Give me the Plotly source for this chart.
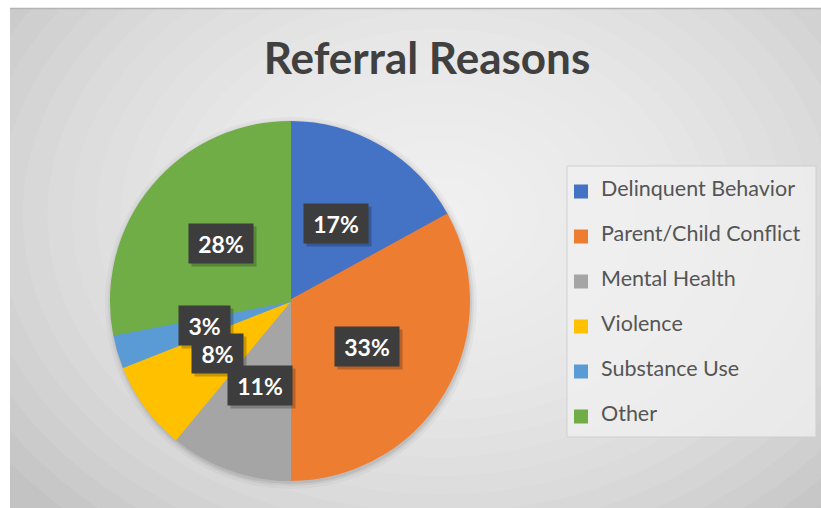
import math
import plotly.graph_objects as go

# ---------------- data ----------------
categories = ["Delinquent Behavior", "Parent/Child Conflict", "Mental Health",
              "Violence", "Substance Use", "Other"]
values = [17, 33, 11, 8, 3, 28]
colors = ["#4472C4", "#ED7D31", "#A5A5A5", "#FFC000", "#5B9BD5", "#70AD47"]
title_text = "Referral Reasons"

# ---------------- layout geometry ----------------
W, H = 821, 508
cx, cy, R = 290, 301, 179          # pie centre / radius in pixels
label_r = 0.5                      # data labels at half radius

def px(x):
    return x / W

def py(y):
    return 1 - y / H

dom_x = [px(cx - R), px(cx + R)]
dom_y = [py(cy + R), py(cy - R)]

# legend labels: 3 lines so that each entry is ~45px tall, label in middle
leg_font = 10.77
legend_labels = [f'&nbsp;<br><span style="font-size:21.5px">{c}</span><br>&nbsp;'
                 for c in categories]

fig = go.Figure()
fig.add_trace(go.Pie(
    labels=legend_labels,
    values=values,
    customdata=categories,
    sort=False,
    direction="clockwise",
    rotation=0,
    marker=dict(colors=colors, line=dict(color=colors, width=2)),
    textinfo="none",
    hovertemplate="%{customdata}: %{percent}<extra></extra>",
    domain=dict(x=dom_x, y=dom_y),
    showlegend=True,
))

# ---------------- background (radial-ish gradient) ----------------
shapes = []
shapes.append(dict(type="rect", xref="paper", yref="paper",
                   x0=px(10), x1=px(W), y0=py(H), y1=py(8),
                   fillcolor="#c3c3c3", line=dict(width=0), layer="below"))
gx, gy = 440, 215
N = 22
for i in range(N):
    f = 1 - i / N
    rx = 540 * f
    ry = 410 * f
    shapes.append(dict(type="circle", xref="paper", yref="paper",
                       x0=px(gx - rx), x1=px(gx + rx),
                       y0=py(gy + ry), y1=py(gy - ry),
                       fillcolor="white", opacity=0.08,
                       line=dict(width=0), layer="below"))
# clip the gradient to the chart area: white strips on the outside
shapes.append(dict(type="rect", xref="paper", yref="paper",
                   x0=0, x1=px(10), y0=0, y1=1,
                   fillcolor="white", line=dict(width=0), layer="below"))
shapes.append(dict(type="rect", xref="paper", yref="paper",
                   x0=0, x1=1, y0=py(8), y1=1,
                   fillcolor="white", line=dict(width=0), layer="below"))
shapes.append(dict(type="line", xref="paper", yref="paper",
                   x0=px(10), x1=1, y0=py(8.5), y1=py(8.5),
                   line=dict(color="#b4b4b4", width=1.5), layer="below"))
# soft pie shadow
for dr, op in [(7, 0.03), (4, 0.05), (2, 0.07)]:
    shapes.append(dict(type="circle", xref="paper", yref="paper",
                       x0=px(cx - R - dr + 1), x1=px(cx + R + dr + 1),
                       y0=py(cy + R + dr + 2), y1=py(cy - R - dr + 2),
                       fillcolor="black", opacity=op,
                       line=dict(width=0), layer="below"))
# legend box
shapes.append(dict(type="rect", xref="paper", yref="paper",
                   x0=px(567), x1=px(816), y0=py(437), y1=py(166),
                   fillcolor="rgba(240,240,240,0.75)",
                   line=dict(color="rgba(205,205,205,0.9)", width=1),
                   layer="below"))

# ---------------- data labels ----------------
total = sum(values)
annotations = []
cum = 0
label_specs = []
for v in values:
    mid = cum + v / 2
    cum += v
    th = 2 * math.pi * mid / total
    lx = cx + label_r * R * math.sin(th)
    ly = cy - label_r * R * math.cos(th)
    label_specs.append((lx, ly, f"{v / total * 100:.0f}%"))

def box_w(t):
    return 13 * (len(t) - 1) + 22

for lx, ly, t in label_specs:
    annotations.append(dict(x=px(lx), y=py(ly), xref="paper", yref="paper",
                            xanchor="center", yanchor="middle",
                            text="&nbsp;", showarrow=False,
                            xshift=3, yshift=-3, width=box_w(t), height=23,
                            font=dict(family="Lato", size=23, color="rgba(0,0,0,0)"),
                            bgcolor="rgba(0,0,0,0.22)", borderpad=8))
for lx, ly, t in label_specs:
    annotations.append(dict(x=px(lx), y=py(ly), xref="paper", yref="paper",
                            xanchor="center", yanchor="middle",
                            text=f"<b>{t}</b>", showarrow=False,
                            width=box_w(t), height=23,
                            font=dict(family="Lato", size=23, color="white"),
                            bgcolor="#3d3d3d", borderpad=8))

fig.update_layout(
    width=W, height=H,
    margin=dict(l=0, r=0, t=0, b=0),
    paper_bgcolor="white",
    plot_bgcolor="white",
    title=dict(text=f"<b>{title_text}</b>", x=px(427), xanchor="center",
               y=py(59), yanchor="middle",
               font=dict(family="Lato", size=44, color="#404040")),
    legend=dict(x=px(561), xanchor="left", y=py(164), yanchor="top",
                bgcolor="rgba(0,0,0,0)", borderwidth=0,
                font=dict(family="Lato", size=leg_font, color="#555555"),
                tracegroupgap=0),
    shapes=shapes,
    annotations=annotations,
)

fig.write_html("out.html",
               config={"displayModeBar": False},
               post_script="document.body.style.margin='0';")
